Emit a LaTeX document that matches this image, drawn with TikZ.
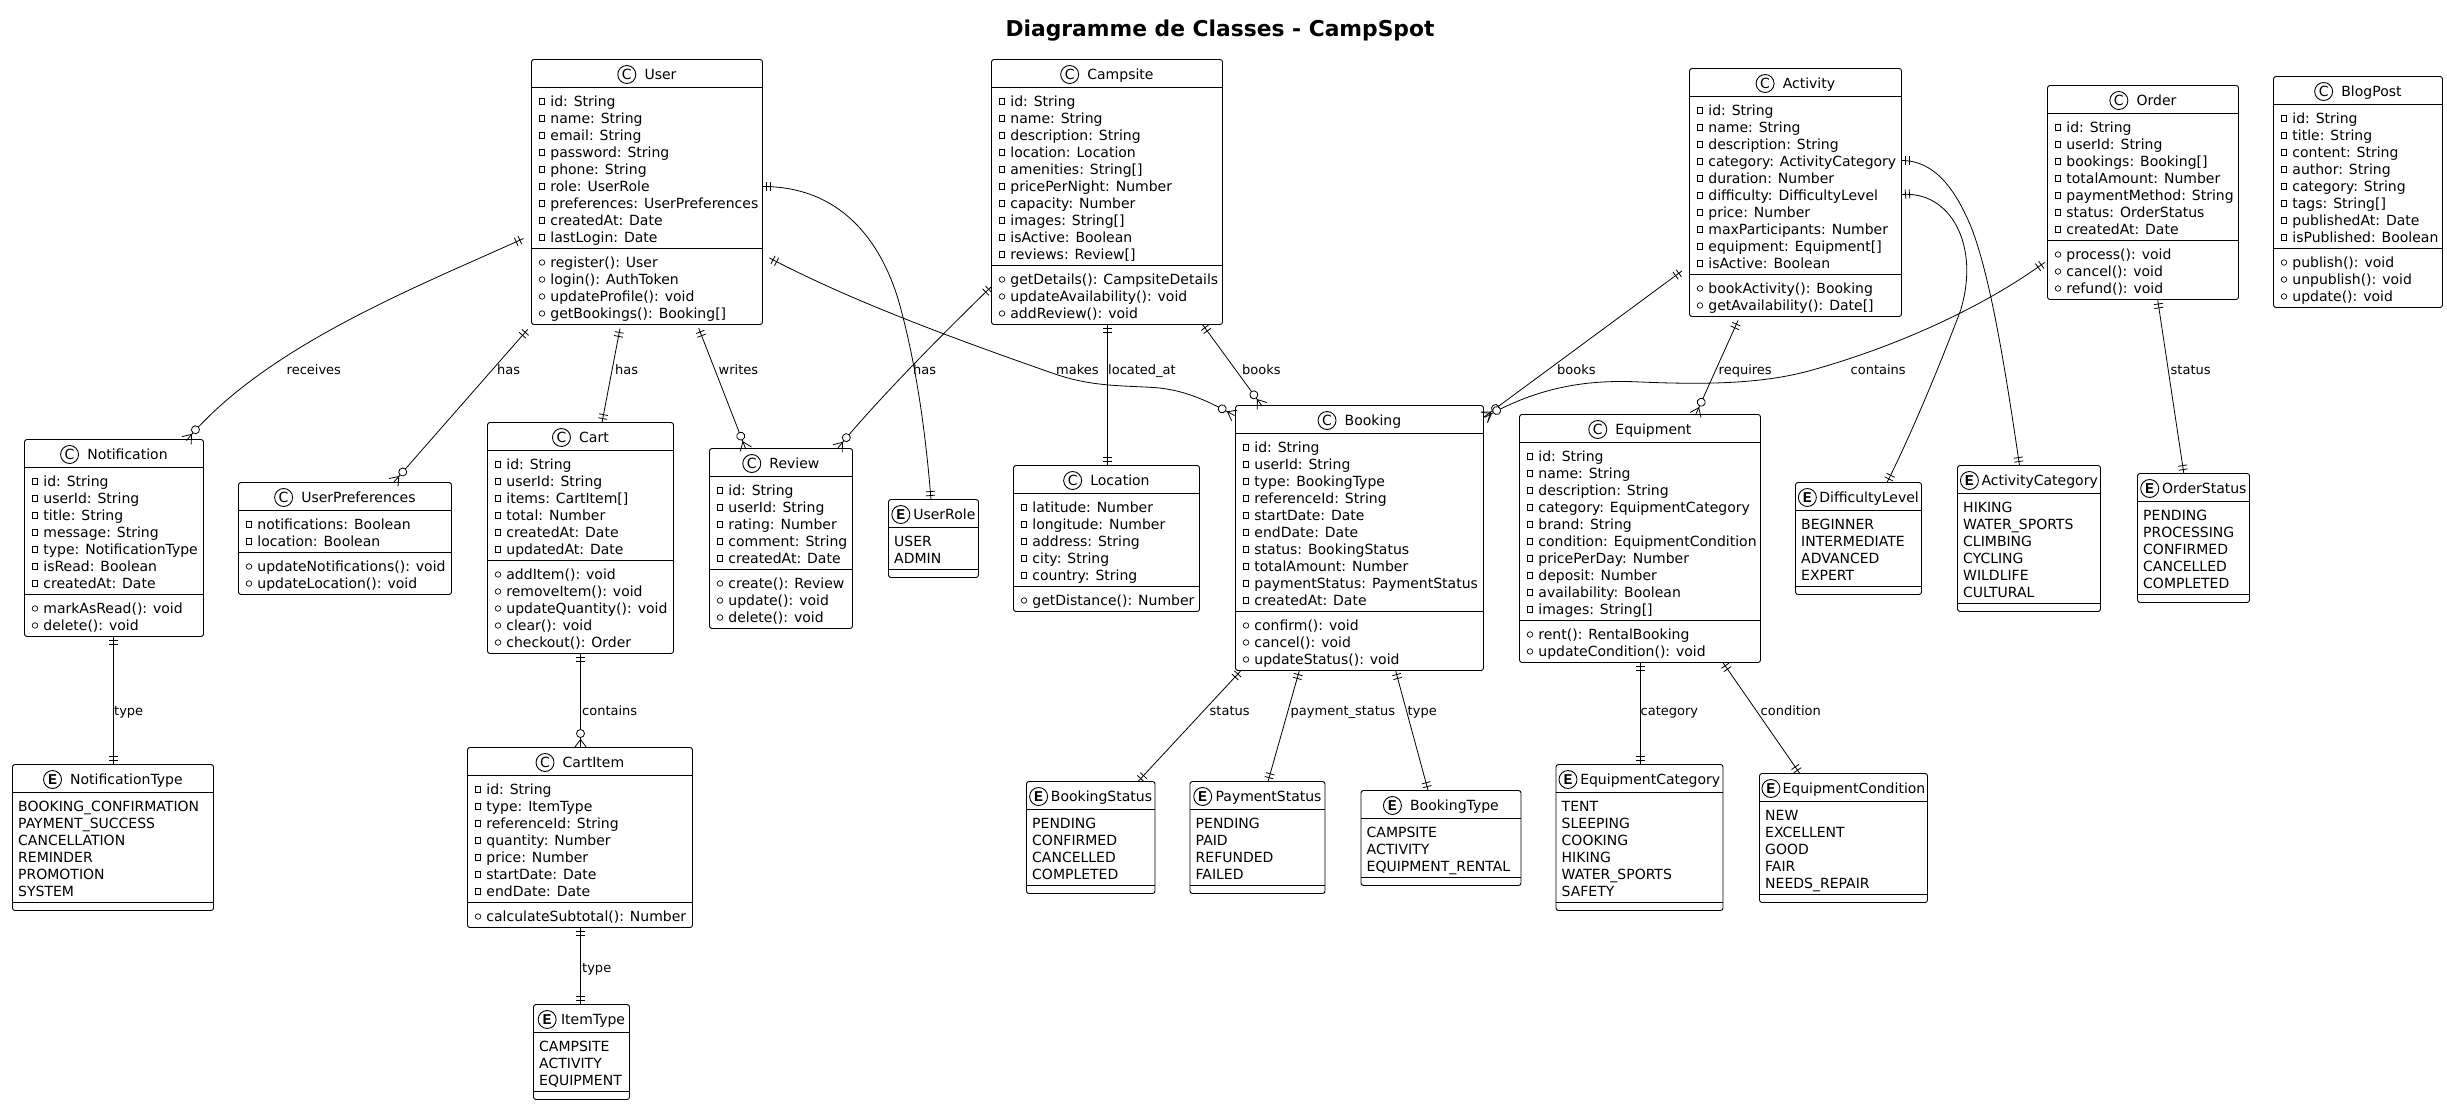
\documentclass[tikz,border=0pt]{standalone}
\usepackage{fontspec}
\setmainfont{DejaVu Sans}
\newfontfamily\markfont{Liberation Mono}
\usetikzlibrary{calc,positioning}

\newcommand{\rowfont}{\fontsize{14}{17}\selectfont}
\newcommand{\linkfont}{\fontsize{13}{16}\selectfont}

% pointes des liens
\pgfdeclarearrow{
  name=OneBar,
  setup code={\pgfarrowssettipend{0pt}\pgfarrowssetlineend{0pt}\pgfarrowssetbackend{-9pt}
    \pgfarrowshullpoint{0pt}{5pt}\pgfarrowshullpoint{0pt}{-5pt}
    \pgfarrowshullpoint{-9pt}{5pt}\pgfarrowshullpoint{-9pt}{-5pt}},
  drawing code={\pgfsetlinewidth{0.8pt}
    \pgfpathmoveto{\pgfqpoint{-4pt}{-4.5pt}}\pgfpathlineto{\pgfqpoint{-4pt}{4.5pt}}
    \pgfpathmoveto{\pgfqpoint{-8pt}{-4.5pt}}\pgfpathlineto{\pgfqpoint{-8pt}{4.5pt}}
    \pgfusepathqstroke}
}
\pgfdeclarearrow{
  name=ManyRing,
  setup code={\pgfarrowssettipend{0pt}\pgfarrowssetlineend{0pt}\pgfarrowssetbackend{-19pt}
    \pgfarrowshullpoint{0pt}{6pt}\pgfarrowshullpoint{0pt}{-6pt}
    \pgfarrowshullpoint{-19pt}{5pt}\pgfarrowshullpoint{-19pt}{-5pt}},
  drawing code={\pgfsetlinewidth{0.8pt}
    \pgfpathmoveto{\pgfqpoint{0pt}{-6pt}}\pgfpathlineto{\pgfqpoint{-8pt}{0pt}}
    \pgfpathlineto{\pgfqpoint{0pt}{6pt}}\pgfusepathqstroke
    \pgfsetfillcolor{white}
    \pgfpathcircle{\pgfqpoint{-14pt}{0pt}}{4pt}\pgfusepathqfillstroke}
}

\tikzset{
  classbox/.style={draw,fill=white,rectangle,rounded corners=2.5pt,line width=0.9pt,
    inner sep=0pt,outer sep=0pt,anchor=north west},
  rowtext/.style={font=\rowfont,inner sep=0pt,anchor=base west},
  headtext/.style={font=\rowfont,inner sep=0pt,anchor=base west},
  headmark/.style={draw,circle,line width=0.9pt,minimum size=18pt,inner sep=0pt,font=\rowfont},
  privmark/.style={draw,rectangle,line width=0.7pt,minimum size=5.5pt,inner sep=0pt},
  pubmark/.style={draw,circle,line width=0.7pt,minimum size=5.5pt,inner sep=0pt},
  linklabel/.style={font=\linkfont,inner sep=0pt,anchor=base west},
  onemany/.style={draw,line width=0.8pt,OneBar-ManyRing},
  oneone/.style={draw,line width=0.8pt,OneBar-OneBar}
}

\newcount\rowtotal
\newcommand{\countrows}[1]{\global\rowtotal=0 \foreach \rowitem in {#1}{\global\advance\rowtotal by 1 }}

% entete : nom, lettre, largeur
\newcommand{\boxhead}[3]{%
  \setbox0=\hbox{\pgfinterruptpicture\rowfont #1\endpgfinterruptpicture}\edef\titlew{\the\wd0}%
  \pgfmathsetmacro\headgap{min(8.5,(#3-18-\titlew)/3)}%
  \pgfmathsetmacro\headleft{(#3-18-\headgap-\titlew)/2}%
  \node[headmark] (#1-mark) at ($(#1.north west)+(\headleft+9,15)$) {#2};
  \node[headtext] (#1-title) at ($(#1.north west)+(\headleft+18+\headgap,20)$) {#1};
  \draw[line width=0.9pt] ($(#1.north west)+(0,28)$) -- ($(#1.north east)+(0,28)$);
}

% classe : nom, x, y, largeur, attributs, methodes
\newcommand{\umlclass}[6]{%
  \countrows{#5}\edef\numattr{\the\rowtotal}%
  \countrows{#6}\edef\nummeth{\the\rowtotal}%
  \pgfmathsetmacro\boxh{44+17*(\numattr+\nummeth)}%
  \pgfmathsetmacro\ruley{36+17*\numattr}%
  \node[classbox,minimum width=#4pt,minimum height=\boxh pt] (#1) at (#2,#3) {};
  \boxhead{#1}{C}{#4}
  \draw[line width=0.9pt] ($(#1.north west)+(0,\ruley)$) -- ($(#1.north east)+(0,\ruley)$);
  \foreach \rowitem [count=\i] in {#5}{
    \node[privmark] (#1-am\i) at ($(#1.north west)+(10.5,25+17*\i)$) {};
    \node[rowtext] (#1-a\i) at ($(#1.north west)+(18.7,30+17*\i)$) {\rowitem};
  }
  \foreach \rowitem [count=\i] in {#6}{
    \node[pubmark] (#1-mm\i) at ($(#1.north west)+(10.5,\ruley-3+17*\i)$) {};
    \node[rowtext] (#1-m\i) at ($(#1.north west)+(18.7,\ruley+2+17*\i)$) {\rowitem};
  }
}

% enum : nom, x, y, largeur, valeurs
\newcommand{\umlenum}[5]{%
  \countrows{#5}\edef\numattr{\the\rowtotal}%
  \pgfmathsetmacro\boxh{44+17*\numattr}%
  \pgfmathsetmacro\ruley{36+17*\numattr}%
  \node[classbox,minimum width=#4pt,minimum height=\boxh pt] (#1) at (#2,#3) {};
  \boxhead{#1}{\markfont\bfseries\fontsize{15}{15}\selectfont E}{#4}
  \draw[line width=0.9pt] ($(#1.north west)+(0,\ruley)$) -- ($(#1.north east)+(0,\ruley)$);
  \foreach \rowitem [count=\i] in {#5}{
    \node[rowtext] (#1-a\i) at ($(#1.north west)+(5.5,30+17*\i)$) {\rowitem};
  }
}

\begin{document}
\begin{tikzpicture}[x=1pt,y=-1pt]
  \useasboundingbox (-0.5,-0.5) rectangle (2446.5,1104.5);

  \node[font=\bfseries\fontsize{21.8}{26}\selectfont,inner sep=0pt] (title) at (1219.5,30) {Diagramme de Classes - CampSpot};

  % classes
  \umlclass{User}{531}{59}{231}{id: String,name: String,email: String,password: String,phone: String,role: UserRole,preferences: UserPreferences,createdAt: Date,lastLogin: Date}{register(): User,login(): AuthToken,updateProfile(): void,getBookings(): Booking[]}
  \umlclass{Campsite}{991}{59}{231}{id: String,name: String,description: String,location: Location,amenities: String[],pricePerNight: Number,capacity: Number,images: String[],isActive: Boolean,reviews: Review[]}{getDetails(): CampsiteDetails,updateAvailability(): void,addReview(): void}
  \umlclass{Activity}{1689}{68}{212}{id: String,name: String,description: String,category: ActivityCategory,duration: Number,difficulty: DifficultyLevel,price: Number,maxParticipants: Number,equipment: Equipment[],isActive: Boolean}{bookActivity(): Booking,getAvailability(): Date[]}
  \umlclass{Order}{2047}{85}{191}{id: String,userId: String,bookings: Booking[],totalAmount: Number,paymentMethod: String,status: OrderStatus,createdAt: Date}{process(): void,cancel(): void,refund(): void}
  \umlclass{BlogPost}{2273}{76}{169}{id: String,title: String,content: String,author: String,category: String,tags: String[],publishedAt: Date,isPublished: Boolean}{publish(): void,unpublish(): void,update(): void}
  \umlclass{Notification}{24}{439}{179}{id: String,userId: String,title: String,message: String,type: NotificationType,isRead: Boolean,createdAt: Date}{markAsRead(): void,delete(): void}
  \umlclass{UserPreferences}{238}{482}{213}{notifications: Boolean,location: Boolean}{updateNotifications(): void,updateLocation(): void}
  \umlclass{Cart}{487}{422}{186}{id: String,userId: String,items: CartItem[],total: Number,createdAt: Date,updatedAt: Date}{addItem(): void,removeItem(): void,updateQuantity(): void,clear(): void,checkout(): Order}
  \umlclass{Review}{709}{448}{143}{id: String,userId: String,rating: Number,comment: String,createdAt: Date}{create(): Review,update(): void,delete(): void}
  \umlclass{Location}{1013}{465}{186}{latitude: Number,longitude: Number,address: String,city: String,country: String}{getDistance(): Number}
  \umlclass{Booking}{1235}{405}{248}{id: String,userId: String,type: BookingType,referenceId: String,startDate: Date,endDate: Date,status: BookingStatus,totalAmount: Number,paymentStatus: PaymentStatus,createdAt: Date}{confirm(): void,cancel(): void,updateStatus(): void}
  \umlclass{Equipment}{1519}{414}{241}{id: String,name: String,description: String,category: EquipmentCategory,brand: String,condition: EquipmentCondition,pricePerDay: Number,deposit: Number,availability: Boolean,images: String[]}{rent(): RentalBooking,updateCondition(): void}
  \umlclass{CartItem}{467}{747}{225}{id: String,type: ItemType,referenceId: String,quantity: Number,price: Number,startDate: Date,endDate: Date}{calculateSubtotal(): Number}

  % enums
  \umlenum{UserRole}{888}{499}{90}{USER,ADMIN}
  \umlenum{NotificationType}{12}{764}{201}{BOOKING\_CONFIRMATION,PAYMENT\_SUCCESS,CANCELLATION,REMINDER,PROMOTION,SYSTEM}
  \umlenum{ItemType}{533}{1004}{96}{CAMPSITE,ACTIVITY,EQUIPMENT}
  \umlenum{BookingStatus}{1026}{781}{128.5}{PENDING,CONFIRMED,CANCELLED,COMPLETED}
  \umlenum{PaymentStatus}{1189.5}{781}{135}{PENDING,PAID,REFUNDED,FAILED}
  \umlenum{BookingType}{1360.5}{790}{160}{CAMPSITE,ACTIVITY,EQUIPMENT\_RENTAL}
  \umlenum{EquipmentCategory}{1555.5}{764}{167}{TENT,SLEEPING,COOKING,HIKING,WATER\_SPORTS,SAFETY}
  \umlenum{EquipmentCondition}{1759}{773}{168}{NEW,EXCELLENT,GOOD,FAIR,NEEDS\_REPAIR}
  \umlenum{DifficultyLevel}{1795}{482}{126}{BEGINNER,INTERMEDIATE,ADVANCED,EXPERT}
  \umlenum{ActivityCategory}{1957}{465}{143}{HIKING,WATER\_SPORTS,CLIMBING,CYCLING,WILDLIFE,CULTURAL}
  \umlenum{OrderStatus}{2137}{473}{112}{PENDING,PROCESSING,CONFIRMED,CANCELLED,COMPLETED}

  % liens
  \draw[onemany] ($(User.north west)+(-8,179)$) .. controls (420,285) and (265,345) .. ($(Notification.north west)+(162,1)$);
  \draw[onemany] ($(User.south west)+(-3.7,4.8)$) -- ($(UserPreferences.north west)+(155,0)$);
  \draw[oneone] ($(User.south west)+(88.5,4)$) -- ($(Cart.north west)+(114.5,0)$);
  \draw[onemany] ($(User.south west)+(167.2,3.7)$) -- ($(Review.north west)+(36.3,0.7)$);
  \draw[oneone] ($(User.north east)+(0,127)$) .. controls (840,186) and (880,240) .. (898,300) .. controls (915,360) and (925,430) .. ($(UserRole.north west)+(42.5,0)$);
  \draw[onemany] ($(User.north east)+(7,198.5)$) .. controls (850,300) and (950,337) .. (1053,373) .. controls (1090,386) and (1120,385) .. (1153,387) .. controls (1185,389) and (1210,402) .. ($(Booking.north west)+(-1,10)$);
  \draw[onemany] ($(Campsite.north west)+(0,227)$) .. controls (960,316) and (880,395) .. ($(Review.north west)+(128,0)$);
  \draw[oneone] ($(Campsite.south west)+(115.5,0)$) -- ($(Location.north west)+(93.5,0)$);
  \draw[onemany] ($(Campsite.south west)+(211,0)$) -- ($(Booking.north west)+(26.6,0.6)$);
  \draw[onemany] ($(Activity.north west)+(-7.5,202.4)$) -- ($(Booking.north east)+(0.7,11.3)$);
  \draw[onemany] ($(Order.north west)+(-3,177)$) .. controls (1985,305) and (1900,345) .. (1810,370) .. controls (1760,384) and (1700,384) .. (1640,381.5) .. controls (1590,379) and (1540,385) .. ($(Booking.north east)+(1,12)$);
  \draw[onemany] ($(Activity.south west)+(48.5,4)$) -- ($(Equipment.north west)+(176,0.5)$);
  \draw[oneone] ($(Activity.north east)+(0,92)$) .. controls (1935,160) and (1955,190) .. (1970,225) .. controls (1990,275) and (2005,370) .. ($(ActivityCategory.north west)+(62,0)$);
  \draw[oneone] ($(Activity.north east)+(0,126)$) .. controls (1950,190) and (1980,245) .. (1960,310) .. controls (1945,350) and (1915,425) .. ($(DifficultyLevel.north west)+(91.5,0)$);
  \draw[oneone] ($(Order.south west)+(110.2,0.5)$) -- ($(OrderStatus.north west)+(46.3,0)$);
  \draw[oneone] ($(Notification.south west)+(89,0)$) -- ($(NotificationType.north west)+(101,0)$);
  \draw[onemany] ($(Cart.south west)+(93,0)$) -- ($(CartItem.north west)+(113,0)$);
  \draw[oneone] ($(CartItem.south west)+(113,0)$) -- ($(ItemType.north west)+(47,0)$);
  \draw[oneone] ($(Booking.south west)+(5,0.6)$) -- ($(BookingStatus.north west)+(111.5,0)$);
  \draw[oneone] ($(Booking.south west)+(63.8,0.2)$) -- ($(PaymentStatus.north west)+(78,0)$);
  \draw[oneone] ($(Booking.south west)+(160.1,0.2)$) -- ($(BookingType.north west)+(67.1,0)$);
  \draw[oneone] ($(Equipment.south west)+(120.7,0)$) -- ($(EquipmentCategory.north west)+(84.2,0)$);
  \draw[oneone] ($(Equipment.south west)+(203.4,0)$) -- ($(EquipmentCondition.north west)+(40.3,0)$);

  % etiquettes
  \node[linklabel] (l-receives) at (286,373.5) {receives};
  \node[linklabel] (l-hasprefs) at (496.5,373.5) {has};
  \node[linklabel] (l-hascart) at (614.5,373.5) {has};
  \node[linklabel] (l-writes) at (718,373.5) {writes};
  \node[linklabel] (l-hasrole) at (912.5,373.5) {has};
  \node[linklabel] (l-makes) at (1055.5,373.5) {makes};
  \node[linklabel] (l-located) at (1107.5,373.5) {located\_at};
  \node[linklabel] (l-bookscamp) at (1241.5,373.5) {books};
  \node[linklabel] (l-booksact) at (1556.5,373.5) {books};
  \node[linklabel] (l-requires) at (1718,373.5) {requires};
  \node[linklabel] (l-contorder) at (1850,373.5) {contains};
  \node[linklabel] (l-statorder) at (2170,373.5) {status};
  \node[linklabel] (l-typenotif) at (113.5,715) {type};
  \node[linklabel] (l-contcart) at (581.5,715) {contains};
  \node[linklabel] (l-statbook) at (1209,715) {status};
  \node[linklabel] (l-paybook) at (1290,715) {payment\_status};
  \node[linklabel] (l-typebook) at (1407,715) {type};
  \node[linklabel] (l-cateq) at (1640,715) {category};
  \node[linklabel] (l-condeq) at (1760,715) {condition};
  \node[linklabel] (l-typeitem) at (581.5,972) {type};
\end{tikzpicture}
\end{document}
